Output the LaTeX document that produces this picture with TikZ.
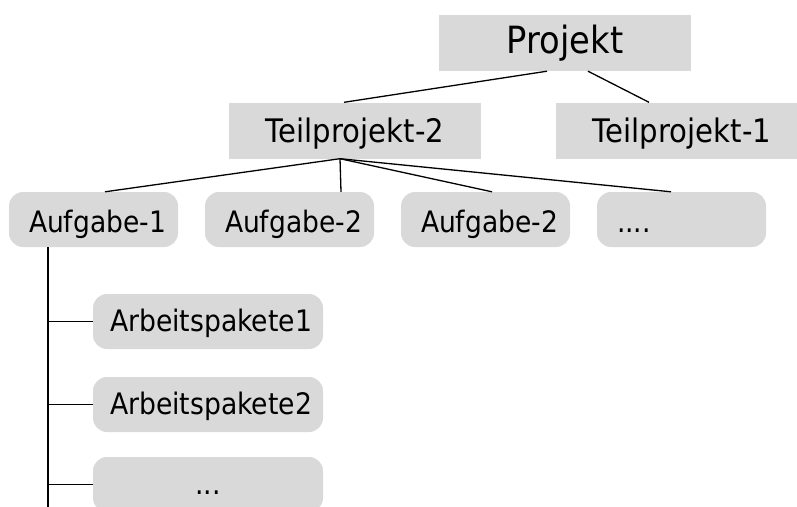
\documentclass[tikz,border=0pt]{standalone}
\usepackage{fontspec}
\setmainfont{DejaVu Sans}[FakeStretch=0.9]
\usetikzlibrary{positioning}
\definecolor{boxgray}{HTML}{D9D9D9}
\exhyphenpenalty=10000

\begin{document}
\begin{tikzpicture}[x=1pt, y=-1pt, node distance=196pt, on grid,
    box/.style={fill=boxgray, inner sep=0pt, text depth=0pt},
    head/.style={box, minimum width=252pt, minimum height=56pt},
    task/.style={box, rounded corners=14pt, minimum height=55pt,
      inner xsep=20pt, text width=129pt, align=left, text height=25pt,
      font=\fontsize{29.5}{32}\selectfont},
    pkg/.style={box, rounded corners=14pt, minimum height=55pt,
      inner xsep=17pt, text width=196pt, align=left, text height=20pt,
      font=\fontsize{29.6}{32}\selectfont},
    link/.style={line width=1.3pt}]
  \clip (0,0) rectangle (797,506);
  \node[head, text height=20pt, font=\fontsize{37.5}{40}\selectfont] (P) at (565,43) {Projekt};
  \node[head, text height=23.5pt, font=\fontsize{32.4}{36}\selectfont] (T2) at (355,130.5) {Teilprojekt-2};
  \node[head, text height=23.5pt, font=\fontsize{32.4}{36}\selectfont] (T1) [right =327pt of T2] {Teilprojekt-1};
  \node[task] (A1) at (93.5,219.5) {Aufgabe-1};
  \node[task] (A2) [right =of A1] {Aufgabe-2};
  \node[task] (A3) [right =of A2] {Aufgabe-2};
  \node[task] (A4) [right =of A3] {....};
  \node[pkg] (W1) at (208,321.5) {Arbeitspakete1};
  \node[pkg] (W2) [below =83pt of W1] {Arbeitspakete2};
  \node[pkg, align=center] (W3) [below =80pt of W2] {...};
  \coordinate (S) at (48,510);
  % Projekt
  \draw[link] ([xshift=-18pt]P.south) -- ([xshift=-11pt]T2.north);
  \draw[link] ([xshift=23pt]P.south) -- ([xshift=-33pt]T1.north);
  % Teilprojekt-2
  \draw[link] ([xshift=-15pt]T2.south) -- ([xshift=11.5pt]A1.north);
  \draw[link] ([xshift=-15pt]T2.south) -- ([xshift=51.5pt]A2.north);
  \draw[link] ([xshift=-15pt]T2.south) -- ([xshift=6.5pt]A3.north);
  \draw[link] ([xshift=-15pt]T2.south) -- ([xshift=-10.5pt]A4.north);
  % Aufgabe-1
  \draw[link] ([xshift=-45.5pt]A1.south) -- (S);
  \draw[link] (W1.west -| S) -- (W1.west);
  \draw[link] (W2.west -| S) -- (W2.west);
  \draw[link] (W3.west -| S) -- (W3.west);
\end{tikzpicture}
\end{document}
